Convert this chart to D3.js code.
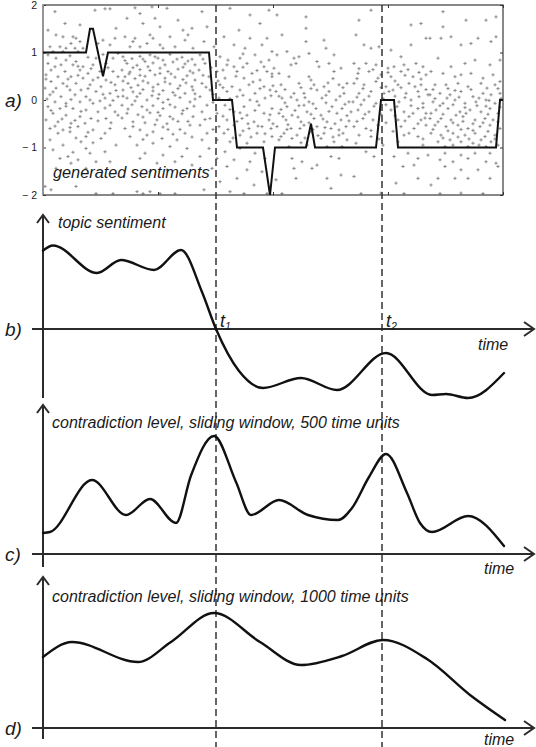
<!DOCTYPE html>
<html><head><meta charset="utf-8">
<script src="https://cdn.jsdelivr.net/npm/d3@7"></script>
<style>html,body{margin:0;padding:0;background:#fff}svg{display:block}</style>
</head><body>
<script>
// ---------------- DATA ----------------
const timeTicks = [0, 115, 230, 345, 460];
const sentTicks = [2, 1, 0, -1, -2];
const sentTickLabels = ["2", "1", "0", "\u2212 1", "\u2212 2"];
const eventTimes = [173, 339];
const eventSubs = ["1", "2"];

// underlying (true) sentiment, panel a
const sentT = [0, 43, 47, 50, 60, 65, 166, 170, 189, 194, 220, 227, 232, 263, 268, 272, 333, 338, 351, 355, 453, 457, 460];
const sentV = [1, 1, 1.5, 1.5, 0.5, 1, 1, 0, 0, -1, -1, -2, -1, -1, -0.5, -1, -1, 0, 0, -1, -1, 0, 0];

// generated sentiments (scatter), panel a  [time, sentiment]
const generatedPoints = [
[12,1.86],[62,1.92],[67,1.92],[52,1.89],[22,1.61],[37,1.58],[5,1.47],[13,1.37],[20,1.33],[30,1.33],[33,1.30],[37,1.23],[28,1.19],[7,1.12],[17,1.12],[23,1.09],[32,1.09],[10,1.02],[20,1.02],[35,1.02],[40,1.09],[55,1.19],[73,1.51],[72,1.30],[67,1.16],[60,1.26],[75,0.98],[70,0.88],[63,0.77],[53,0.88],[50,0.74],[13,0.88],[23,0.84],[33,0.81],[5,0.77],[18,0.74],[30,0.74],[40,0.70],[8,0.63],[22,0.60],[37,0.63],[45,0.56],[57,0.60],[70,0.60],[75,0.49],[3,0.53],[15,0.49],[28,0.49],[40,0.46],[50,0.42],[63,0.42],[8,0.39],[20,0.35],[33,0.35],[47,0.32],[58,0.28],[72,0.32],[2,0.25],[13,0.25],[27,0.21],[38,0.21],[53,0.18],[67,0.14],[7,0.11],[18,0.07],[32,0.11],[43,0.07],[62,0.04],[75,0.07],[12,-0.04],[23,-0.07],[37,-0.04],[50,-0.07],[67,-0.11],[5,-0.14],[17,-0.18],[30,-0.18],[43,-0.21],[55,-0.25],[72,-0.25],[10,-0.28],[23,-0.32],[37,-0.35],[48,-0.39],[63,-0.39],[3,-0.42],[15,-0.46],[28,-0.49],[42,-0.49],[7,-0.60],[20,-0.63],[35,-0.56],[50,-0.63],[67,-0.60],[15,-0.70],[27,-0.67],[43,-0.77],[58,-0.81],[7,-0.84],[38,-0.88],[20,-0.95],[43,-1.02],[73,-0.95],[62,-1.09],[25,-1.19],[47,-1.12],[17,-1.23],[35,-1.26],[53,-1.30],[28,-1.33],[67,-1.30],[43,-1.44],[13,-1.44],[2,-1.82],[8,-1.89],[53,-1.97],[70,-1.97],[33,-1.82],
[5,0.95],[27,0.93],[45,0.90],[60,0.96],[12,0.70],[35,0.71],[48,0.66],[65,0.68],[3,0.44],[25,0.44],[35,0.52],[55,0.47],[68,0.37],[10,0.17],[24,0.29],[45,0.24],[60,0.12],[73,0.20],[4,0.02],[28,0.01],[47,0.00],[57,-0.02],[70,-0.01],[8,-0.22],[23,-0.13],[38,-0.24],[62,-0.17],[75,-0.32],[19,-0.40],[32,-0.43],[55,-0.44],[68,-0.48],[12,-0.55],[27,-0.58],[45,-0.68],[62,-0.70],[33,-0.80],[50,-0.90],[10,-1.05],[30,-1.10],
[92,1.94],[109,1.96],[124,1.93],[84,1.72],[97,1.82],[112,1.72],[135,1.68],[100,1.61],[117,1.54],[140,1.47],[149,1.51],[145,1.37],[82,1.33],[92,1.30],[107,1.37],[110,1.30],[127,1.33],[142,1.26],[87,1.12],[97,1.12],[104,1.19],[117,1.16],[120,1.09],[132,1.12],[150,1.09],[90,1.23],
[80,0.91],[89,0.87],[97,0.92],[107,0.95],[115,0.88],[127,0.96],[139,0.90],[149,0.86],
[84,0.77],[94,0.73],[102,0.81],[110,0.78],[120,0.84],[130,0.80],[142,0.76],[152,0.74],
[79,0.63],[87,0.59],[97,0.64],[107,0.62],[117,0.67],[125,0.60],[135,0.65],[147,0.61],
[82,0.49],[92,0.45],[102,0.50],[112,0.53],[122,0.46],[132,0.48],[144,0.51],[152,0.42],
[85,0.35],[95,0.31],[105,0.36],[115,0.33],[127,0.34],[137,0.30],[149,0.28],
[80,0.21],[90,0.17],[100,0.22],[110,0.19],[120,0.20],[130,0.16],[142,0.14],[152,0.13],
[84,0.04],[94,0.07],[104,0.00],[115,0.03],[125,0.01],[137,0.05],[147,-0.04],
[79,-0.11],[89,-0.10],[99,-0.14],[110,-0.12],[120,-0.18],[132,-0.15],[144,-0.18],
[84,-0.28],[95,-0.31],[107,-0.27],[117,-0.33],[127,-0.35],[139,-0.29],[150,-0.35],
[90,-0.46],[102,-0.48],[114,-0.42],[124,-0.50],[135,-0.45],[147,-0.53],
[82,-0.60],[97,-0.63],[110,-0.67],[125,-0.62],[142,-0.70],
[87,-0.77],[104,-0.74],[119,-0.81],[134,-0.84],[149,-0.78],
[94,-0.95],[110,-0.91],[127,-0.98],[144,-1.02],
[102,-1.12],[120,-1.16],[139,-1.19],
[97,-1.23],[114,-1.33],[132,-1.30],[149,-1.37],
[124,-1.47],[107,-1.51],[144,-1.54],
[94,-1.93],[107,-1.93],[117,-1.97],[100,-1.97],[132,-1.97],
[82,0.83],[100,0.86],[112,0.91],[134,0.86],[145,0.82],[90,0.68],[105,0.70],[122,0.74],[140,0.69],[150,0.57],[86,0.55],[97,0.52],[117,0.56],[128,0.55],[140,0.43],[80,0.40],[100,0.40],[110,0.27],[122,0.38],[143,0.36],[88,0.26],[97,0.14],[116,0.12],[135,0.24],[150,0.21],[80,0.08],[92,-0.02],[109,0.09],[120,-0.05],[132,0.10],[152,0.02],[85,-0.19],[104,-0.21],[115,-0.26],[127,-0.10],[140,-0.22],[151,-0.13],[79,-0.38],[100,-0.36],[112,-0.52],[130,-0.40],[145,-0.45],[90,-0.56],[120,-0.57],[137,-0.62],[100,-0.83],[130,-0.72],
[159,1.86],[187,1.93],[207,1.79],[226,1.89],[217,1.61],[164,1.54],[196,1.47],[181,1.33],[161,1.23],[207,1.30],[224,1.30],[171,1.12],[191,1.16],[202,1.09],[219,1.16],[229,1.02],
[157,0.95],[177,0.91],[197,0.88],[212,0.95],[226,0.84],[162,0.77],[184,0.74],[191,0.70],[204,0.77],[221,0.70],[231,0.67],[156,0.63],[174,0.60],[194,0.60],[209,0.56],[224,0.60],
[166,0.49],[182,0.46],[201,0.46],[217,0.42],[229,0.49],[159,0.35],[177,0.32],[189,0.28],[206,0.32],[221,0.28],[167,0.21],[184,0.18],[197,0.21],[212,0.14],[227,0.21],
[157,0.07],[176,0.04],[194,0.07],[207,0.00],[222,0.04],[164,-0.11],[182,-0.11],[201,-0.14],[216,-0.11],[229,-0.18],[159,-0.25],[174,-0.28],[191,-0.25],[204,-0.32],[221,-0.28],
[167,-0.39],[184,-0.42],[199,-0.39],[211,-0.46],[226,-0.42],[157,-0.53],[176,-0.56],[191,-0.53],[206,-0.60],[219,-0.56],[164,-0.70],[181,-0.70],[197,-0.74],[214,-0.70],[229,-0.77],
[159,-0.84],[174,-0.84],[187,-0.88],[204,-0.91],[221,-0.88],[166,-1.02],[182,-1.09],[197,-1.02],[212,-1.12],[157,-1.19],[174,-1.23],[191,-1.26],[207,-1.30],[222,-1.23],
[169,-1.44],[184,-1.40],[204,-1.47],[219,-1.51],[194,-1.65],[177,-1.72],[211,-1.79],[161,-1.89],[187,-1.93],[201,-1.97],[224,-1.97],
[160,0.86],[185,0.84],[200,0.97],[218,0.80],[168,0.68],[180,0.63],[200,0.69],[214,0.62],[229,0.55],[160,0.52],[175,0.40],[193,0.50],[210,0.38],[163,0.27],[180,0.26],[200,0.10],[217,0.24],[230,0.30],[170,0.12],[187,0.03],[214,-0.03],[228,0.09],[170,-0.05],[187,-0.20],[197,-0.27],[212,-0.22],[227,-0.31],[162,-0.41],[180,-0.34],[194,-0.45],[205,-0.50],[215,-0.55],[228,-0.60],[170,-0.62],[185,-0.62],[200,-0.65],[222,-0.71],[230,-0.50],[208,-0.78],[190,-0.80],
[234,1.79],[263,1.75],[263,1.51],[239,1.37],[263,1.23],[281,1.26],[244,1.02],[256,0.91],[266,0.98],[283,1.09],[291,0.95],[234,0.95],[274,0.81],[251,0.88],
[236,0.56],[248,0.74],[253,0.77],[276,0.70],[286,0.77],[298,0.67],[266,0.49],[246,0.49],[291,0.60],
[238,0.32],[256,0.35],[271,0.32],[281,0.28],[296,0.32],[304,0.35],[233,0.18],[251,0.14],[261,0.14],[274,0.21],[286,0.18],[301,0.14],
[239,0.04],[254,0.00],[266,-0.04],[279,0.04],[293,0.00],[306,-0.04],[244,-0.14],[261,-0.11],[273,-0.18],[289,-0.14],[299,-0.18],
[236,-0.28],[249,-0.32],[264,-0.25],[278,-0.32],[294,-0.28],[308,-0.25],[243,-0.42],[258,-0.46],[271,-0.39],[284,-0.46],[298,-0.42],
[234,-0.56],[248,-0.60],[261,-0.53],[274,-0.56],[288,-0.60],[303,-0.56],[241,-0.70],[254,-0.74],[268,-0.67],[281,-0.70],[296,-0.74],
[236,-0.84],[249,-0.81],[278,-0.81],[291,-0.88],[304,-0.84],[264,-0.95],[246,-0.98],[284,-0.98],[299,-0.98],
[249,-1.23],[259,-1.30],[274,-1.37],[288,-1.19],[296,-1.23],[251,-1.44],[269,-1.44],[298,-1.58],[233,-1.68],[253,-1.65],[284,-1.65],[288,-1.86],[239,-1.97],
[242,0.22],[258,0.26],[268,0.24],[285,0.36],[300,0.26],[236,0.08],[248,0.06],[262,0.05],[283,0.10],[297,0.08],[242,-0.06],[256,-0.12],[270,-0.08],[283,-0.06],[302,-0.09],[238,-0.20],[252,-0.22],[268,-0.30],[286,-0.24],[304,-0.33],[240,-0.35],[255,-0.36],[266,-0.48],[280,-0.40],[292,-0.50],[306,-0.44],[245,-0.52],[257,-0.60],[270,-0.62],[282,-0.58],[296,-0.63],[238,-0.77],[262,-0.80],[275,-0.75],[290,-0.78],[258,-0.90],[300,-0.70],[244,-0.62],[268,0.42],[290,0.45],
[316,1.68],[328,1.89],[368,1.58],[378,1.61],[313,1.37],[321,1.16],[328,1.09],[336,1.12],[348,1.05],[358,0.91],[368,1.16],[383,1.30],
[311,0.77],[323,0.77],[333,0.74],[345,0.67],[351,0.70],[361,0.74],[373,0.77],[380,0.70],[315,0.56],[326,0.60],[338,0.53],[348,0.49],[358,0.60],[370,0.49],[383,0.53],
[311,0.35],[321,0.32],[333,0.39],[343,0.28],[355,0.32],[366,0.35],[378,0.32],[316,0.14],[328,0.18],[341,0.14],[350,0.21],[363,0.14],[375,0.18],[385,0.11],
[310,-0.04],[321,0.00],[333,-0.07],[356,-0.04],[368,0.00],[380,-0.07],[315,-0.21],[326,-0.25],[348,-0.21],[361,-0.25],[375,-0.18],[383,-0.28],
[320,-0.39],[330,-0.42],[355,-0.42],[366,-0.35],[378,-0.42],[311,-0.56],[323,-0.60],[335,-0.53],[358,-0.56],[371,-0.60],[383,-0.53],
[316,-0.74],[328,-0.77],[361,-0.74],[375,-0.77],[313,-0.91],[340,-0.95],[355,-0.88],[380,-0.95],
[323,-1.09],[331,-1.19],[351,-1.19],[365,-1.12],[375,-1.23],[385,-1.16],[360,-1.40],[371,-1.37],[311,-1.61],[375,-1.65],[353,-1.75],[318,-1.97],[338,-1.96],[361,-1.97],
[316,0.66],[330,0.64],[345,0.58],[365,0.64],[376,0.58],[314,0.45],[335,0.46],[352,0.40],[362,0.52],[378,0.44],[320,0.24],[338,0.26],[346,0.18],[358,0.26],[372,0.28],[383,0.22],[314,0.06],[326,0.08],[340,0.03],[352,0.08],[362,0.05],[376,0.07],[318,-0.10],[331,-0.13],[343,-0.10],[354,-0.14],[368,-0.12],[380,-0.16],[322,-0.30],[338,-0.30],[352,-0.33],[370,-0.28],[382,-0.38],[314,-0.45],[343,-0.48],[362,-0.44],[375,-0.50],[328,-0.64],[350,-0.66],[366,-0.70],[336,-0.82],[380,-0.82],
[400,1.86],[423,1.68],[443,1.68],[453,1.75],[400,1.54],[387,1.30],[398,1.30],[408,1.33],[418,1.16],[428,1.19],[435,1.30],[448,1.23],[453,1.33],
[395,0.88],[408,0.70],[422,0.77],[432,0.84],[447,0.74],[457,0.84],[388,0.60],[400,0.56],[412,0.49],[418,0.53],[428,0.56],[440,0.46],[450,0.53],
[392,0.32],[403,0.32],[415,0.35],[425,0.28],[438,0.35],[452,0.32],[457,0.39],[387,0.11],[397,0.14],[407,0.11],[418,0.18],[430,0.07],[440,0.14],[448,0.11],[457,0.14],
[390,-0.04],[400,-0.07],[412,0.00],[422,-0.07],[433,-0.04],[443,0.00],[452,-0.07],[393,-0.21],[405,-0.18],[417,-0.25],[427,-0.21],[438,-0.25],[447,-0.18],[455,-0.28],
[387,-0.39],[398,-0.39],[408,-0.42],[420,-0.35],[432,-0.42],[442,-0.39],[450,-0.42],[392,-0.53],[403,-0.56],[415,-0.53],[425,-0.60],[437,-0.56],[447,-0.53],[457,-0.60],
[388,-0.70],[398,-0.74],[410,-0.70],[422,-0.74],[432,-0.70],[442,-0.77],[452,-0.74],[395,-0.88],[407,-0.84],[418,-0.88],[430,-0.91],[438,-0.84],[448,-0.88],
[402,-0.98],[425,-0.98],[443,-0.98],[455,-0.95],[402,-1.12],[418,-1.16],[432,-1.12],[447,-1.12],
[397,-1.26],[410,-1.30],[425,-1.23],[443,-1.30],[453,-1.33],[455,-1.40],[402,-1.40],[418,-1.47],[395,-1.65],[412,-1.65],[425,-1.65],[447,-1.65],[388,-1.79],[397,-1.97],[418,-1.96],[440,-1.97],[435,-1.47],
[390,0.22],[405,0.24],[412,0.20],[428,0.22],[444,0.25],[455,0.24],[392,0.03],[404,0.04],[416,0.06],[436,0.04],[446,-0.01],[458,0.03],[397,-0.12],[410,-0.10],[422,-0.16],[434,-0.12],[443,-0.13],[457,-0.15],[388,-0.28],[400,-0.30],[413,-0.32],[423,-0.28],[445,-0.30],[395,-0.46],[410,-0.48],[420,-0.45],[430,-0.50],[440,-0.48],[455,-0.46],[390,-0.62],[405,-0.65],[418,-0.62],[430,-0.64],[445,-0.66],[400,-0.80],[415,-0.78],[426,-0.82],[452,-0.82],[410,-0.95],[436,-0.95]
];

// b) topic sentiment
const topicT = [0, 10, 54, 78, 111, 138, 159, 173, 196, 220, 258, 294, 343, 389, 403, 425, 461];
const topicV = [0.785, 0.835, 0.56, 0.69, 0.59, 0.79, 0.37, 0, -0.42, -0.59, -0.49, -0.61, -0.24, -0.66, -0.65, -0.69, -0.44];

// c) contradiction level, window 500
const c500T = [0, 7, 49, 83, 107, 133, 148, 171, 193, 208, 236, 265, 295, 309, 326, 343, 364, 377, 389, 425, 461];
const c500V = [0.21, 0.22, 0.74, 0.39, 0.55, 0.31, 0.785, 1.18, 0.72, 0.39, 0.54, 0.39, 0.34, 0.46, 0.77, 1.00, 0.61, 0.31, 0.22, 0.38, 0.08];

// d) contradiction level, window 1000
const c1000T = [0, 29, 95, 128, 171, 217, 258, 299, 340, 384, 429, 462];
const c1000V = [0.71, 0.86, 0.66, 0.86, 1.15, 0.86, 0.63, 0.72, 0.88, 0.69, 0.315, 0.08];

// ---------------- DRAWING ----------------
const W = 536, H = 747;
const FONT = '"Liberation Sans", Arial, Helvetica, sans-serif';
const svg = d3.select("body").append("svg").attr("width", W).attr("height", H)
  .style("font-family", FONT);

const x = d3.scaleLinear().domain([0, 460]).range([43, 503]);
const yA = d3.scaleLinear().domain([-2, 2]).range([195, 5]);
const yB = d3.scaleLinear().domain([-0.7, 1.15]).range([399, 214]);
const yC = d3.scaleLinear().domain([-0.13, 1.5]).range([567, 404]);
const yD = d3.scaleLinear().domain([-0.11, 1.52]).range([739, 576]);

const AX = "#2b2b2b";

// ---- panel a ----
const gA = svg.append("g");
gA.append("defs").append("clipPath").attr("id", "clipA")
  .append("rect").attr("x", x(0)).attr("y", yA(2)).attr("width", x(460) - x(0)).attr("height", yA(-2) - yA(2));

gA.append("g").selectAll("path").data(generatedPoints).join("path")
  .attr("d", "M-1.6,0H1.6M0,-1.6V1.6")
  .attr("transform", d => `translate(${x(d[0])},${yA(d[1])})`)
  .attr("stroke", "#8a8a8a").attr("stroke-width", 1).attr("fill", "none");

function styleAxis(g) {
  g.select(".domain").remove();
  g.selectAll(".tick line").attr("stroke", "#333").attr("stroke-width", 1);
  g.selectAll(".tick text").attr("font-family", FONT).attr("font-size", 10.5).attr("fill", "#222");
}
gA.append("g").attr("transform", `translate(${x(0)},0)`)
  .call(d3.axisLeft(yA).tickValues(sentTicks).tickSize(-3).tickPadding(6).tickFormat((d, i) => sentTickLabels[i]))
  .call(styleAxis);
gA.append("g").attr("transform", `translate(${x(460)},0)`)
  .call(d3.axisRight(yA).tickValues(sentTicks).tickSize(-3).tickFormat(""))
  .call(styleAxis);
gA.append("g").attr("transform", `translate(0,${yA(-2)})`)
  .call(d3.axisBottom(x).tickValues(timeTicks).tickSize(-3).tickFormat(""))
  .call(styleAxis);
gA.append("g").attr("transform", `translate(0,${yA(2)})`)
  .call(d3.axisTop(x).tickValues(timeTicks).tickSize(-3).tickFormat(""))
  .call(styleAxis);

gA.append("rect").attr("x", x(0)).attr("y", yA(2)).attr("width", x(460) - x(0)).attr("height", yA(-2) - yA(2))
  .attr("fill", "none").attr("stroke", "#3a3a3a").attr("stroke-width", 1.2);
gA.append("line").attr("x1", x(0)).attr("x2", x(0)).attr("y1", yA(2)).attr("y2", yA(-2))
  .attr("stroke", "#9a9a9a").attr("stroke-width", 1.6);

const sentLine = d3.line().x((d, i) => x(sentT[i])).y((d, i) => yA(sentV[i]));
gA.append("path").datum(sentT).attr("d", sentLine).attr("clip-path", "url(#clipA)")
  .attr("fill", "none").attr("stroke", "#111").attr("stroke-width", 2).attr("stroke-linejoin", "miter");

gA.append("text").attr("x", 53).attr("y", 178).attr("font-size", 16.3).attr("font-style", "italic")
  .attr("fill", "#1a1a1a").text("generated sentiments");
gA.append("text").attr("x", 5).attr("y", yA(0) + 7).attr("font-size", 19).attr("font-style", "italic")
  .attr("fill", "#1a1a1a").text("a)");

// ---- dashed event lines ----
svg.append("g").selectAll("line").data(eventTimes).join("line")
  .attr("x1", d => x(d)).attr("x2", d => x(d)).attr("y1", yA(2)).attr("y2", H)
  .attr("stroke", "#333").attr("stroke-width", 1.5).attr("stroke-dasharray", "7,4");

// ---- generic arrow-axis panel ----
function arrowPanel(y, bottomY, label, title, titleX, titleY, timeX, timeY) {
  const g = svg.append("g");
  const x0 = x(0), yTop = y.range()[1], y0 = y(0);
  g.append("line").attr("x1", x0).attr("x2", x0).attr("y1", yTop + 1).attr("y2", bottomY)
    .attr("stroke", AX).attr("stroke-width", 2);
  g.append("path").attr("d", `M${x0 - 6},${yTop + 9}L${x0},${yTop + 1}L${x0 + 6},${yTop + 9}`)
    .attr("fill", "none").attr("stroke", AX).attr("stroke-width", 2);
  g.append("line").attr("x1", 32).attr("x2", 534).attr("y1", y0).attr("y2", y0)
    .attr("stroke", AX).attr("stroke-width", 2);
  g.append("path").attr("d", `M${524},${y0 - 7}L${534},${y0}L${524},${y0 + 7}`)
    .attr("fill", "none").attr("stroke", AX).attr("stroke-width", 2);
  g.append("text").attr("x", 5).attr("y", y0 + 7).attr("font-size", 19).attr("font-style", "italic")
    .attr("fill", "#1a1a1a").text(label);
  g.append("text").attr("x", titleX).attr("y", titleY).attr("font-size", 16).attr("font-style", "italic")
    .attr("fill", "#1a1a1a").text(title);
  g.append("text").attr("x", timeX).attr("y", timeY).attr("font-size", 16).attr("font-style", "italic")
    .attr("fill", "#1a1a1a").text("time");
  return g;
}

function drawCurve(g, y, T, V) {
  const line = d3.line().curve(d3.curveMonotoneX).x((d, i) => x(T[i])).y((d, i) => y(V[i]));
  g.append("path").datum(T).attr("d", line).attr("fill", "none")
    .attr("stroke", "#111").attr("stroke-width", 2.4).attr("stroke-linecap", "round");
}

const gB = arrowPanel(yB, 398, "b)", "topic sentiment", 58, 228, 478, 350);
drawCurve(gB, yB, topicT, topicV);
const tl = gB.selectAll("text.ev").data(eventTimes).join("text").attr("class", "ev")
  .attr("x", d => x(d) + 4).attr("y", yB(0) - 2).attr("font-style", "italic").attr("fill", "#1a1a1a");
tl.append("tspan").attr("font-size", 18).text("t");
tl.append("tspan").attr("font-size", 10.5).attr("dy", 3).text((d, i) => eventSubs[i]);

const gC = arrowPanel(yC, 567, "c)", "contradiction level, sliding window, 500 time units", 52, 428, 484, 574);
drawCurve(gC, yC, c500T, c500V);
const gD = arrowPanel(yD, 739, "d)", "contradiction level, sliding window, 1000 time units", 52, 602, 484, 745);
drawCurve(gD, yD, c1000T, c1000V);
</script>
</body></html>
